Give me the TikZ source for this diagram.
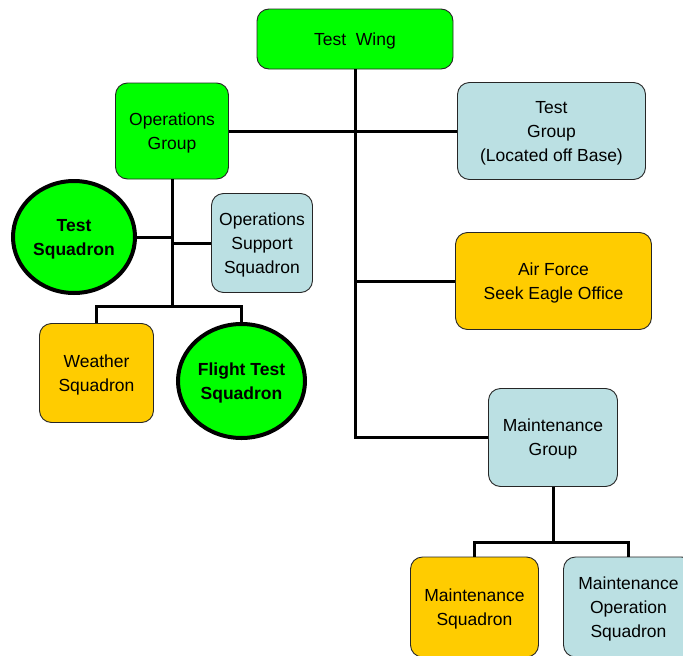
\documentclass[tikz,border=0pt]{standalone}
\usepackage{fontspec}
\setmainfont{Liberation Sans}
\usetikzlibrary{shapes.geometric}
\definecolor{verde}{HTML}{00FF00}
\definecolor{azzurro}{HTML}{BBE0E3}
\definecolor{giallo}{HTML}{FFCC00}
\begin{document}
\begin{tikzpicture}[x=1pt,y=-1pt,
    box/.style={draw=black!85,line width=0.9pt,rounded corners=12pt,align=center,
        inner sep=0pt,text depth=-2pt,font=\fontsize{17.5}{24}\selectfont},
    squad/.style={ellipse,draw=black,line width=4pt,fill=verde,align=center,
        inner sep=0pt,text depth=-2pt,font=\fontsize{17.5}{24}\selectfont\bfseries},
    link/.style={line width=3pt}]

    \useasboundingbox (0,0) rectangle (683,656);

    % Vertice
    \node[box,fill=verde,minimum width=196pt,minimum height=60pt] (wing) at (355,39) {Test\ \ Wing};

    % Gruppi
    \node[box,fill=verde,minimum width=113pt,minimum height=96pt] (opsg) at (172,131) {Operations\\Group};
    \node[box,fill=azzurro,minimum width=188pt,minimum height=97pt] (testg) at (551.5,131) {Test\\Group\\(Located off Base)};
    \node[box,fill=giallo,minimum width=196pt,minimum height=97pt] (afseo) at (553.5,281) {Air Force\\Seek Eagle Office};
    \node[box,fill=azzurro,minimum width=129pt,minimum height=98pt] (mg) at (553,437.5) {Maintenance\\Group};

    % Squadroni del gruppo operazioni
    \node[squad,minimum width=122pt,minimum height=112pt] (tsq) at (74,237) {Test\\Squadron};
    \node[box,fill=azzurro,minimum width=101pt,minimum height=99pt] (oss) at (262,243) {Operations\\Support\\Squadron};
    \node[box,fill=giallo,minimum width=114pt,minimum height=99pt] (wsq) at (96.5,373) {Weather\\Squadron};
    \node[squad,minimum width=127pt,minimum height=114pt] (ftsq) at (241.5,381) {Flight Test\\Squadron};

    % Squadroni del gruppo manutenzione
    \node[box,fill=giallo,minimum width=128pt,minimum height=100pt] (msq) at (474.5,607) {Maintenance\\Squadron};
    \node[box,fill=azzurro,minimum width=130pt,minimum height=100pt] (mos) at (628.5,607) {Maintenance\\Operation\\Squadron};

    % Collegamenti
    \coordinate (opsj) at (172,306);
    \coordinate (mgj) at (553,542);
    \draw[link] (wing.south) |- (mg.west);
    \draw[link] (opsg.east) -- (testg.west);
    \draw[link] (wing.south |- afseo.west) -- (afseo.west);
    \draw[link] (opsg.south) -- (opsj);
    \draw[link] (tsq.east) -- (tsq.east -| opsj);
    \draw[link] (oss.west -| opsj) -- (oss.west);
    \draw[link] (wsq.north) |- (opsj) -| (ftsq.north);
    \draw[link] (mg.south) -- (mgj);
    \draw[link] (msq.north) |- (mgj) -| (mos.north);

\end{tikzpicture}
\end{document}
